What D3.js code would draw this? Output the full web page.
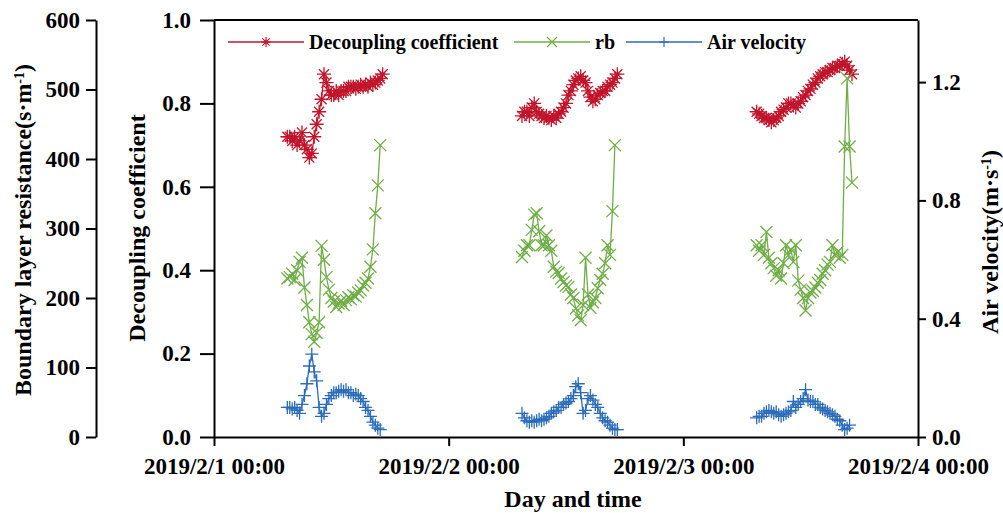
<!DOCTYPE html>
<html>
<head>
<meta charset="utf-8">
<script src="https://cdn.jsdelivr.net/npm/d3@7"></script>
<style>
  body { margin: 0; background: #fff; }
  #chart { width: 1003px; height: 513px; }
  text { font-family: "Liberation Serif", "Times New Roman", serif; font-weight: bold; fill: #000; }
</style>
</head>
<body>
<div id="chart"></div>
<script>
// ---- data (15 min samples, 07:30 - 17:15 each day) ----
const days = ["2019-02-01", "2019-02-02", "2019-02-03"];
const sampleTimes = [
  "07:30", "07:45", "08:00", "08:15", "08:30", "08:45", "09:00", "09:15", "09:30", "09:45",
  "10:00", "10:15", "10:30", "10:45", "11:00", "11:15", "11:30", "11:45", "12:00", "12:15",
  "12:30", "12:45", "13:00", "13:15", "13:30", "13:45", "14:00", "14:15", "14:30", "14:45",
  "15:00", "15:15", "15:30", "15:45", "16:00", "16:15", "16:30", "16:45", "17:00", "17:15"
];
const xTickLabels = ["2019-02-01", "2019-02-02", "2019-02-03", "2019-02-04"];

// decoupling coefficient (left inner axis, 0-1)
const decouplingDay1 = [0.72, 0.72, 0.71, 0.72, 0.70, 0.71, 0.73, 0.70, 0.69, 0.67,
  0.68, 0.72, 0.75, 0.78, 0.81, 0.87, 0.85, 0.83, 0.82, 0.82,
  0.83, 0.82, 0.83, 0.83, 0.83, 0.84, 0.84, 0.84, 0.835, 0.84,
  0.845, 0.84, 0.845, 0.84, 0.85, 0.845, 0.85, 0.855, 0.86, 0.87];
const decouplingDay2 = [0.77, 0.78, 0.78, 0.77, 0.79, 0.80, 0.78, 0.775, 0.77, 0.765,
  0.77, 0.765, 0.76, 0.77, 0.765, 0.775, 0.78, 0.79, 0.80, 0.82,
  0.83, 0.845, 0.855, 0.86, 0.865, 0.855, 0.85, 0.83, 0.815, 0.805,
  0.81, 0.82, 0.825, 0.83, 0.83, 0.84, 0.845, 0.85, 0.86, 0.87];
const decouplingDay3 = [0.78, 0.775, 0.77, 0.765, 0.765, 0.76, 0.755, 0.76, 0.765, 0.77,
  0.78, 0.785, 0.79, 0.80, 0.80, 0.795, 0.79, 0.80, 0.805, 0.815,
  0.82, 0.83, 0.835, 0.845, 0.85, 0.86, 0.865, 0.87, 0.875, 0.875,
  0.88, 0.885, 0.885, 0.89, 0.89, 0.895, 0.90, 0.89, 0.88, 0.87];

// boundary layer resistance rb (left outer axis, 0-600)
const rbDay1 = [228, 230, 235, 226, 240, 252, 258, 215, 190, 165,
  148, 137, 150, 165, 275, 255, 230, 212, 200, 195,
  187, 192, 196, 190, 197, 201, 198, 204, 202, 208,
  211, 218, 222, 228, 245, 270, 322, 362, 420, null];
const rbDay2 = [259, 268, 276, 276, 298, 320, 322, 296, 276, 276,
  290, 276, 268, 245, 238, 236, 228, 223, 218, 216,
  205, 200, 185, 175, 168, 190, 258, 205, 186, 194,
  200, 214, 226, 235, 250, 276, 262, 325, 420, null];
const rbDay3 = [276, 268, 276, 262, 295, 258, 250, 243, 232, 240,
  228, 250, 276, 262, 270, 252, 276, 225, 212, 200,
  182, 200, 208, 210, 215, 222, 226, 235, 240, 248,
  252, 276, 262, 266, 258, 262, 418, 516, 418, 366];

// air velocity (right axis)
const airDay1 = [0.10, 0.10, 0.095, 0.10, 0.09, 0.08, 0.11, 0.14, 0.18, 0.24,
  0.28, 0.22, 0.19, 0.10, 0.07, 0.08, 0.11, 0.13, 0.14, 0.15,
  0.15, 0.155, 0.16, 0.155, 0.16, 0.15, 0.15, 0.14, 0.145, 0.14,
  0.13, 0.12, 0.10, 0.09, 0.07, 0.05, 0.04, 0.03, 0.025, null];
const airDay2 = [0.08, 0.065, 0.055, 0.05, 0.055, 0.05, 0.055, 0.06, 0.055, 0.06,
  0.065, 0.07, 0.08, 0.085, 0.09, 0.10, 0.10, 0.11, 0.115, 0.12,
  0.13, 0.14, 0.17, 0.18, 0.15, 0.08, 0.09, 0.13, 0.14, 0.125,
  0.11, 0.10, 0.08, 0.065, 0.055, 0.05, 0.04, 0.03, 0.025, 0.025];
const airDay3 = [0.065, 0.07, 0.07, 0.08, 0.085, 0.09, 0.085, 0.08, 0.085, 0.075,
  0.07, 0.075, 0.08, 0.085, 0.09, 0.12, 0.10, 0.11, 0.12, 0.13,
  0.16, 0.125, 0.12, 0.12, 0.11, 0.11, 0.10, 0.095, 0.09, 0.085,
  0.08, 0.075, 0.07, 0.06, 0.055, 0.04, 0.025, 0.03, 0.04, null];

const seriesNames = ["Decoupling coefficient", "rb", "Air velocity"];
const seriesColors = ["#c1152c", "#6fad47", "#2b6cb9"];

// ---- layout ----
const width = 1003, height = 513;
const plot = { left: 214, right: 918, top: 20, bottom: 437 };
const outerAxisX = 96;

const parse = d3.timeParse("%Y-%m-%d %H:%M");
const parseDay = d3.timeParse("%Y-%m-%d");

const x = d3.scaleTime()
  .domain([parseDay(xTickLabels[0]), parseDay(xTickLabels[3])])
  .range([plot.left, plot.right]);
const yDc = d3.scaleLinear().domain([0, 1]).range([plot.bottom, plot.top]);
const yRb = d3.scaleLinear().domain([0, 600]).range([plot.bottom, plot.top]);
const yAv = d3.scaleLinear().domain([0, 1.41]).range([plot.bottom, plot.top]);

const svg = d3.select("#chart").append("svg")
  .attr("width", width).attr("height", height);

// build per-day rows
function rows(day, values) {
  return values.map((v, i) => ({ t: parse(day + " " + sampleTimes[i]), v: v }));
}
const series = [
  { y: yDc, marker: "star", days: [decouplingDay1, decouplingDay2, decouplingDay3] },
  { y: yRb, marker: "cross", days: [rbDay1, rbDay2, rbDay3] },
  { y: yAv, marker: "plus", days: [airDay1, airDay2, airDay3] }
];

function markerPath(type, s) {
  const k = s * 0.72;
  if (type === "star")
    return `M${-s},0H${s}M0,${-s}V${s}M${-k},${-k}L${k},${k}M${-k},${k}L${k},${-k}`;
  if (type === "cross")
    return `M${-s},${-s}L${s},${s}M${-s},${s}L${s},${-s}`;
  return `M${-s},0H${s}M0,${-s}V${s}`;
}
const markerSize = { star: 7, cross: 6, plus: 6.5 };

// ---- series ----
series.forEach((s, si) => {
  const g = svg.append("g");
  const color = seriesColors[si];
  s.days.forEach((vals, di) => {
    const data = rows(days[di], vals);
    const line = d3.line()
      .defined(d => d.v != null)
      .x(d => x(d.t))
      .y(d => s.y(d.v));
    g.append("path")
      .datum(data)
      .attr("fill", "none")
      .attr("stroke", color)
      .attr("stroke-width", 1.3)
      .attr("d", line);
    g.selectAll(null)
      .data(data.filter(d => d.v != null))
      .join("path")
      .attr("transform", d => `translate(${x(d.t)},${s.y(d.v)})`)
      .attr("d", markerPath(s.marker, markerSize[s.marker]))
      .attr("fill", "none")
      .attr("stroke", color)
      .attr("stroke-width", 1.3);
  });
});

// ---- axes ----
const axisFont = 23;
function styleAxis(g) {
  g.selectAll(".domain").attr("stroke", "#000").attr("stroke-width", 2);
  g.selectAll(".tick line").attr("stroke", "#000").attr("stroke-width", 2);
  g.selectAll(".tick text")
    .attr("fill", "#000")
    .style("font-size", axisFont + "px")
    .style("font-family", '"Liberation Serif", serif')
    .style("font-weight", "bold");
}

// frame top
svg.append("line")
  .attr("x1", plot.left).attr("x2", plot.right)
  .attr("y1", plot.top).attr("y2", plot.top)
  .attr("stroke", "#000").attr("stroke-width", 2);

svg.append("g")
  .attr("transform", `translate(0,${plot.bottom})`)
  .call(d3.axisBottom(x)
    .tickValues(xTickLabels.map(parseDay))
    .tickFormat(d3.timeFormat("%Y/%-m/%-d %H:%M"))
    .tickSize(9).tickSizeOuter(0).tickPadding(12))
  .call(styleAxis);

svg.append("g")
  .attr("transform", `translate(${plot.left},0)`)
  .call(d3.axisLeft(yDc).tickValues([0, 0.2, 0.4, 0.6, 0.8, 1.0])
    .tickFormat(d3.format(".1f")).tickSize(14).tickSizeOuter(0).tickPadding(9))
  .call(styleAxis);

svg.append("g")
  .attr("transform", `translate(${outerAxisX},0)`)
  .call(d3.axisLeft(yRb).tickValues([0, 100, 200, 300, 400, 500, 600])
    .tickSize(10).tickSizeOuter(0).tickPadding(6))
  .call(styleAxis);

svg.append("g")
  .attr("transform", `translate(${plot.right},0)`)
  .call(d3.axisRight(yAv).tickValues([0, 0.4, 0.8, 1.2])
    .tickFormat(d3.format(".1f")).tickSize(8).tickSizeOuter(0).tickPadding(6))
  .call(styleAxis);

// ---- axis titles ----
const titleFont = 24;
function vTitle(cx, cy, main, unit) {
  const t = svg.append("text")
    .attr("transform", `translate(${cx},${cy}) rotate(-90)`)
    .attr("text-anchor", "middle")
    .style("font-size", titleFont + "px");
  t.append("tspan").text(main);
  if (unit) {
    t.append("tspan").text(unit[0]);
    t.append("tspan").text(unit[1]).attr("baseline-shift", "super").style("font-size", "14px");
    t.append("tspan").text(")");
  }
}
vTitle(31, 230, "Boundary layer resistance", ["(s\u00b7m", "-1"]);
vTitle(145, 228, "Decoupling coefficient", null);
vTitle(998, 242, "Air velocity", ["(m\u00b7s", "-1"]);

svg.append("text")
  .attr("x", (plot.left + plot.right) / 2 + 7)
  .attr("y", 507)
  .attr("text-anchor", "middle")
  .style("font-size", titleFont + "px")
  .text("Day and time");

// ---- legend ----
const legendX = [228, 514, 626];
const legendY = 42;
const legend = svg.append("g");
series.forEach((s, si) => {
  const lx = legendX[si];
  legend.append("line")
    .attr("x1", lx).attr("x2", lx + 76)
    .attr("y1", legendY).attr("y2", legendY)
    .attr("stroke", seriesColors[si]).attr("stroke-width", 1.5);
  legend.append("path")
    .attr("transform", `translate(${lx + 38},${legendY})`)
    .attr("d", markerPath(s.marker, 5))
    .attr("fill", "none")
    .attr("stroke", seriesColors[si]).attr("stroke-width", 1.2);
  legend.append("text")
    .attr("x", lx + 81).attr("y", legendY + 7)
    .style("font-size", "20px")
    .text(seriesNames[si]);
});
</script>
</body>
</html>
